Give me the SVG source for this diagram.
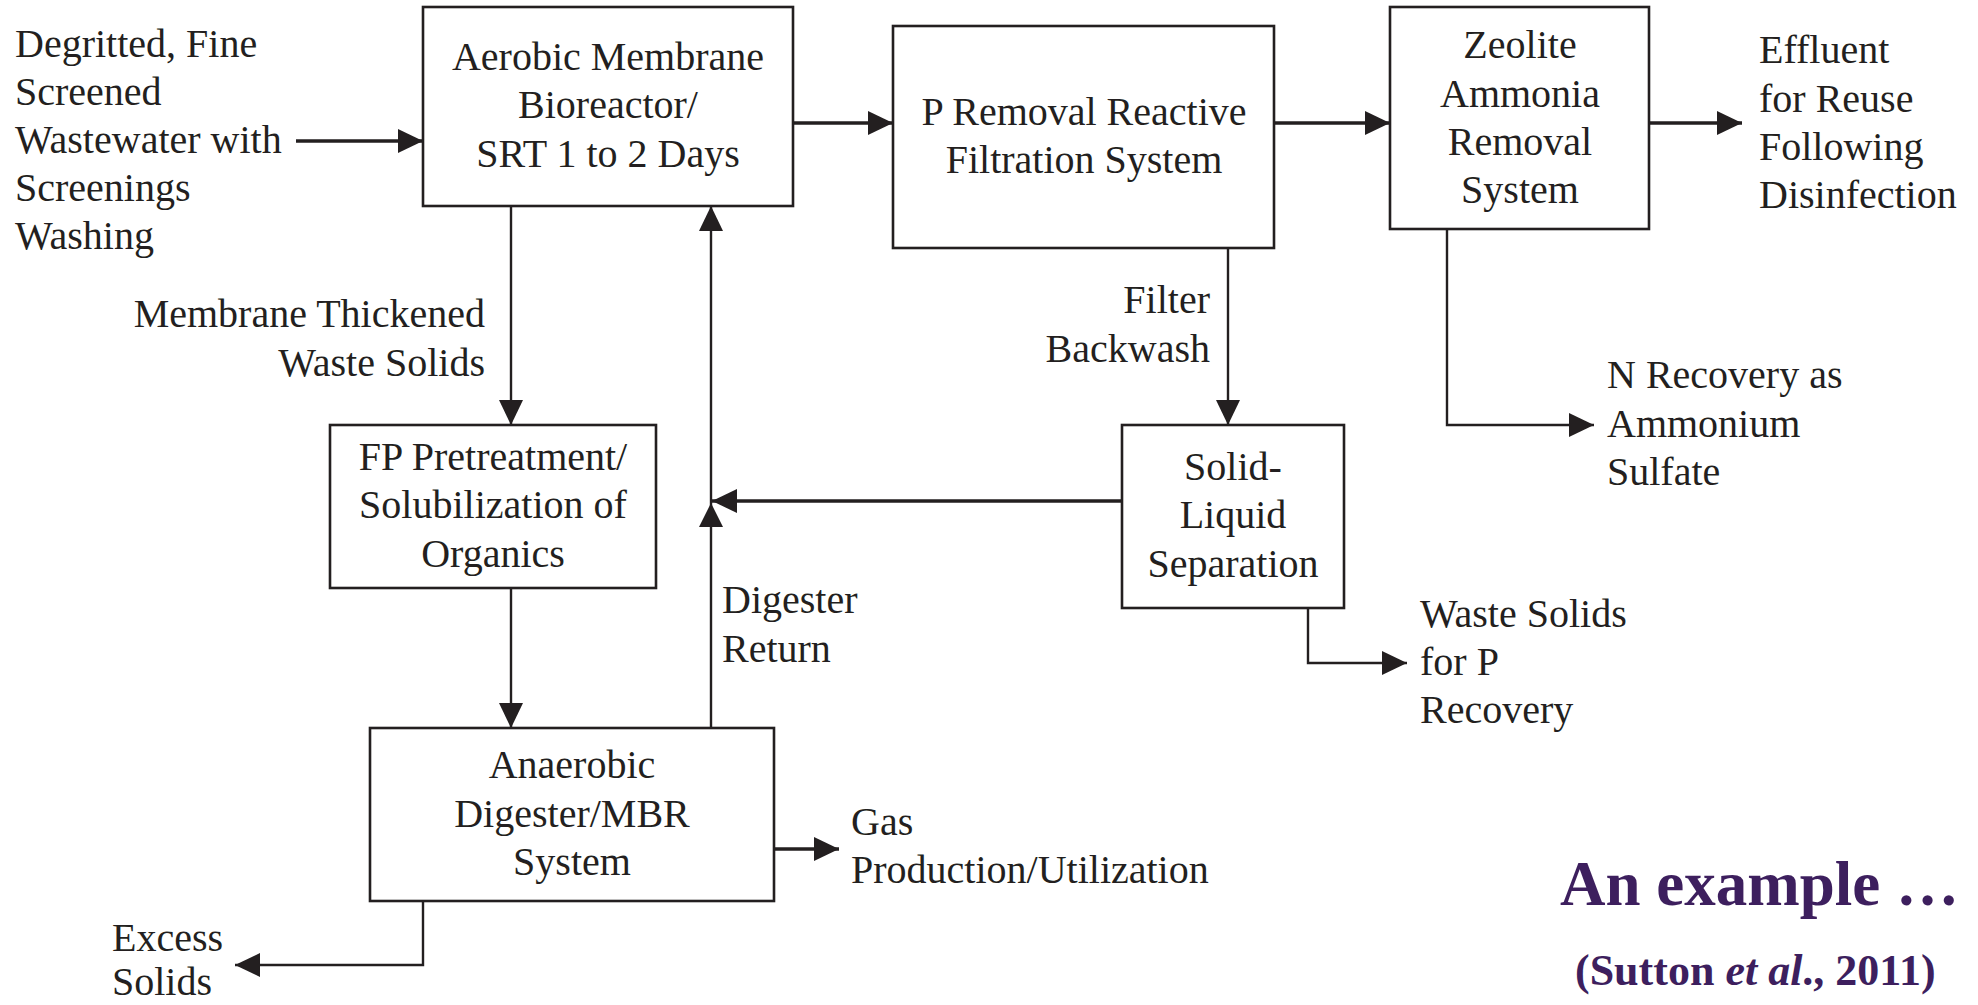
<svg xmlns="http://www.w3.org/2000/svg" width="1978" height="1005" viewBox="0 0 1978 1005">
  <defs>
    <style>
      .box { fill: #ffffff; stroke: #231f20; stroke-width: 2.6; }
      .lbl { font-family: "Liberation Serif", "Times New Roman", serif; font-size: 40px; fill: #231f20; }
      .mid { text-anchor: middle; }
      .end { text-anchor: end; }
      .wire { fill: none; stroke: #231f20; stroke-width: 2.4; }
      .flow { fill: none; stroke: #231f20; stroke-width: 3.6; }
      .title { font-family: "Liberation Serif", "Times New Roman", serif; font-weight: bold; fill: #3d1f5e; }
    </style>
    <marker id="head" viewBox="0 0 25 24" refX="25" refY="12" markerWidth="25" markerHeight="24" markerUnits="userSpaceOnUse" orient="auto">
      <path d="M0,0 L25,12 L0,24 Z" fill="#231f20"/>
    </marker>
  </defs>

  <rect width="1978" height="1005" fill="#ffffff"/>

  <!-- connectors -->
  <g id="connectors">
    <line class="flow" x1="296" y1="141" x2="423" y2="141" marker-end="url(#head)"/>
    <line class="flow" x1="793" y1="123" x2="893" y2="123" marker-end="url(#head)"/>
    <line class="flow" x1="1274" y1="123" x2="1390" y2="123" marker-end="url(#head)"/>
    <line class="flow" x1="1649" y1="123" x2="1742" y2="123" marker-end="url(#head)"/>
    <line class="wire" x1="511" y1="206" x2="511" y2="425" marker-end="url(#head)"/>
    <line class="wire" x1="511" y1="588" x2="511" y2="728" marker-end="url(#head)"/>
    <line class="wire" x1="711" y1="728" x2="711" y2="206" marker-end="url(#head)"/>
    <polygon points="711,503 699,527 723,527" fill="#231f20"/>
    <line class="flow" x1="1122" y1="501" x2="712" y2="501" marker-end="url(#head)"/>
    <line class="wire" x1="1228" y1="248" x2="1228" y2="425" marker-end="url(#head)"/>
    <polyline class="wire" points="1447,229 1447,425 1594,425" marker-end="url(#head)"/>
    <polyline class="wire" points="1308,608 1308,663 1407,663" marker-end="url(#head)"/>
    <line class="flow" x1="774" y1="849" x2="839" y2="849" marker-end="url(#head)"/>
    <polyline class="wire" points="423,901 423,965 235,965" marker-end="url(#head)"/>
  </g>

  <!-- process units -->
  <g id="aerobic-mbr">
    <rect class="box" x="423" y="7" width="370" height="199"/>
    <text class="lbl mid" x="608" y="70">Aerobic Membrane</text>
    <text class="lbl mid" x="608" y="118">Bioreactor/</text>
    <text class="lbl mid" x="608" y="167">SRT 1 to 2 Days</text>
  </g>

  <g id="p-removal">
    <rect class="box" x="893" y="26" width="381" height="222"/>
    <text class="lbl mid" x="1084" y="125">P Removal Reactive</text>
    <text class="lbl mid" x="1084" y="173">Filtration System</text>
  </g>

  <g id="zeolite">
    <rect class="box" x="1390" y="7" width="259" height="222"/>
    <text class="lbl mid" x="1520" y="58">Zeolite</text>
    <text class="lbl mid" x="1520" y="107">Ammonia</text>
    <text class="lbl mid" x="1520" y="155">Removal</text>
    <text class="lbl mid" x="1520" y="203">System</text>
  </g>

  <g id="fp-pretreatment">
    <rect class="box" x="330" y="425" width="326" height="163"/>
    <text class="lbl mid" x="493" y="470">FP Pretreatment/</text>
    <text class="lbl mid" x="493" y="518">Solubilization of</text>
    <text class="lbl mid" x="493" y="567">Organics</text>
  </g>

  <g id="solid-liquid">
    <rect class="box" x="1122" y="425" width="222" height="183"/>
    <text class="lbl mid" x="1233" y="480">Solid-</text>
    <text class="lbl mid" x="1233" y="528">Liquid</text>
    <text class="lbl mid" x="1233" y="577">Separation</text>
  </g>

  <g id="anaerobic">
    <rect class="box" x="370" y="728" width="404" height="173"/>
    <text class="lbl mid" x="572" y="778">Anaerobic</text>
    <text class="lbl mid" x="572" y="827">Digester/MBR</text>
    <text class="lbl mid" x="572" y="875">System</text>
  </g>

  <!-- stream labels -->
  <g id="influent">
    <text class="lbl" x="15" y="57">Degritted, Fine</text>
    <text class="lbl" x="15" y="105">Screened</text>
    <text class="lbl" x="15" y="153">Wastewater with</text>
    <text class="lbl" x="15" y="201">Screenings</text>
    <text class="lbl" x="15" y="249">Washing</text>
  </g>

  <g id="effluent">
    <text class="lbl" x="1759" y="63">Effluent</text>
    <text class="lbl" x="1759" y="112">for Reuse</text>
    <text class="lbl" x="1759" y="160">Following</text>
    <text class="lbl" x="1759" y="208">Disinfection</text>
  </g>

  <g id="thickened-solids">
    <text class="lbl end" x="485" y="327">Membrane Thickened</text>
    <text class="lbl end" x="485" y="376">Waste Solids</text>
  </g>

  <g id="backwash">
    <text class="lbl end" x="1210" y="313">Filter</text>
    <text class="lbl end" x="1210" y="362">Backwash</text>
  </g>

  <g id="n-recovery">
    <text class="lbl" x="1607" y="388">N Recovery as</text>
    <text class="lbl" x="1607" y="437">Ammonium</text>
    <text class="lbl" x="1607" y="485">Sulfate</text>
  </g>

  <g id="digester-return">
    <text class="lbl" x="722" y="613">Digester</text>
    <text class="lbl" x="722" y="662">Return</text>
  </g>

  <g id="p-recovery">
    <text class="lbl" x="1420" y="627">Waste Solids</text>
    <text class="lbl" x="1420" y="675">for P</text>
    <text class="lbl" x="1420" y="723">Recovery</text>
  </g>

  <g id="gas">
    <text class="lbl" x="851" y="835">Gas</text>
    <text class="lbl" x="851" y="883">Production/Utilization</text>
  </g>

  <g id="excess-solids">
    <text class="lbl" x="112" y="951">Excess</text>
    <text class="lbl" x="112" y="995">Solids</text>
  </g>

  <!-- caption -->
  <g id="caption">
    <text class="title" x="1560" y="905" font-size="63">An example …</text>
    <text class="title" x="1575" y="985" font-size="44">(Sutton <tspan font-style="italic">et al</tspan>., 2011)</text>
  </g>
</svg>
